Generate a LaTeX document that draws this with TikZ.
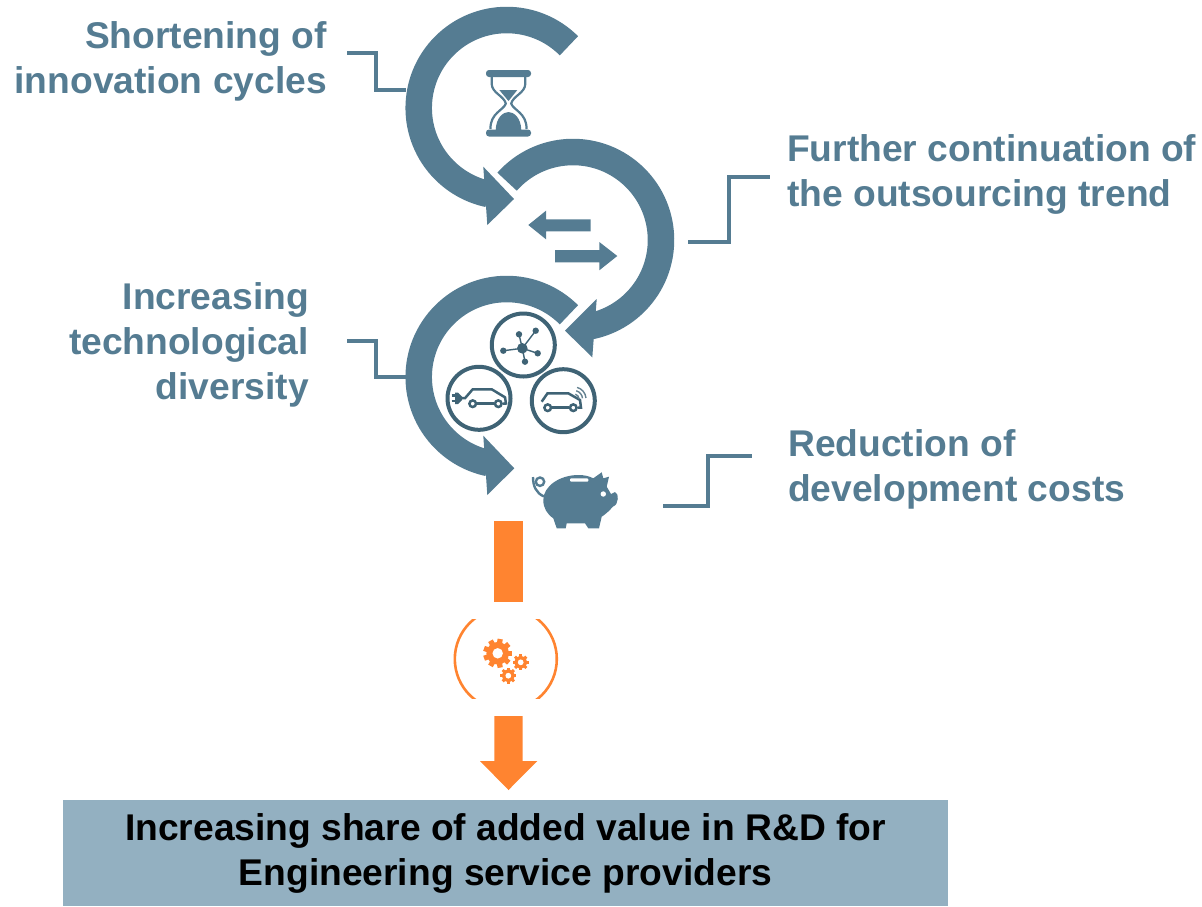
\documentclass[tikz,border=0pt]{standalone}
\usepackage{fontspec}
\setmainfont{Liberation Sans}
\definecolor{ringblue}{HTML}{557C92}
\definecolor{darkblue}{HTML}{3F6375}
\definecolor{boxblue}{HTML}{93B0C1}
\definecolor{flow}{HTML}{FF8430}
\tikzstyle{ring} = [draw=ringblue, line width=26.5pt]
\tikzstyle{solid blue} = [fill=ringblue, draw=none]
\tikzstyle{dark} = [draw=darkblue, line width=2.5pt]
\tikzstyle{badge} = [draw=darkblue, line width=4pt]
\tikzstyle{leader} = [draw=ringblue, line width=3.6pt]
\tikzstyle{lab} = [text=ringblue, font=\fontsize{37.2}{45}\selectfont\bfseries, inner sep=0pt]
\newcommand{\gearicon}[4]{
  \fill[flow] (#1,#2) circle ({0.78*#3});
  \foreach \a in {0,#4,...,359}
    \draw[flow, line width={0.36*#3}, shift={(#1,#2)}] (\a:{0.6*#3}) -- (\a:#3);
  \fill[white] (#1,#2) circle ({0.36*#3});
}
\begin{document}
\begin{tikzpicture}[x=1pt, y=-1pt]
  \useasboundingbox (0,0) rectangle (1202,906);
  \coordinate (c1) at (506.7,108);
  \coordinate (c2) at (573,240);
  \coordinate (c3) at (506.7,377);

  \draw[ring] (c1) ++(-45:88) arc (-45:-258:88);
  \fill[solid blue] (483.3,166.7) -- (514,199) -- (487.3,225) -- cycle;
  \draw[ring] (c2) ++(-138.5:88) arc (-138.5:79:88);
  \fill[solid blue] (596.7,299) -- (565,330.7) -- (592.3,357.3) -- cycle;
  \draw[ring] (c3) ++(-45:88) arc (-45:-258:88);
  \fill[solid blue] (483.3,435.7) -- (514.3,468.3) -- (487.3,495) -- cycle;

  \node[lab, anchor=east, align=right] (lab1) at (327,61) {Shortening of\\innovation cycles};
  \node[lab, anchor=west, align=left] (lab2) at (787,174) {Further continuation of\\the outsourcing trend};
  \node[lab, anchor=east, align=right] (lab3) at (309,345) {Increasing\\technological\\diversity};
  \node[lab, anchor=west, align=left] (lab4) at (788,469) {Reduction of\\development costs};

  \coordinate (s1) at (347,53);
  \coordinate (e1) at (406,90);
  \coordinate (s2) at (688,242);
  \coordinate (e2) at (770,177);
  \coordinate (s3) at (347,341);
  \coordinate (e3) at (406,377);
  \coordinate (s4) at (663,506);
  \coordinate (e4) at (752,456);
  \draw[leader] (s1) -- ++(29,0) |- (e1);
  \draw[leader] (s2) -- ++(41,0) |- (e2);
  \draw[leader] (s3) -- ++(29,0) |- (e3);
  \draw[leader] (s4) -- ++(45,0) |- (e4);

  % hourglass
  \fill[solid blue, rounded corners=3pt] (486,70) rectangle (531,77);
  \fill[solid blue, rounded corners=3pt] (486,129.5) rectangle (531,136.5);
  \draw[ringblue, line width=2.2pt] (491.7,77) -- (491.7,84) .. controls (492,93) and (504,96) .. (505.8,103.5) .. controls (504,110) and (490,113) .. (490.5,129);
  \draw[ringblue, line width=2.2pt] (525.3,77) -- (525.3,84) .. controls (525,93) and (513,96) .. (511.2,103.5) .. controls (513,110) and (527,113) .. (526.5,129);
  \fill[solid blue] (499.3,90) -- (517.3,90) -- (508.5,101) -- cycle;
  \fill[solid blue] (495.7,130) .. controls (496,118) and (503,112) .. (508.5,112) .. controls (514,112) and (521,118) .. (521.3,130) -- cycle;

  % small arrows
  \fill[solid blue] (528.3,225) -- (546,210.7) -- (546,219.3) -- (590.7,219.3) -- (590.7,231.3) -- (546,231.3) -- (546,239.3) -- cycle;
  \fill[solid blue] (617.3,256) -- (599.3,242) -- (599.3,250) -- (555,250) -- (555,262.3) -- (599.3,262.3) -- (599.3,270.3) -- cycle;

  % badges
  \draw[badge] (523.3,345) circle (31.5);
  \draw[badge] (479,398.3) circle (31.5);
  \draw[badge] (563.3,400.7) circle (31.5);

  \foreach \px/\py in {519/334.3, 535.7/330.7, 537.7/353.3, 525/361.7, 503.3/350.7} {
    \draw[darkblue, line width=1.4pt] (522.3,348.3) -- (\px,\py);
    \fill[darkblue] (\px,\py) circle (3.2);
  }
  \fill[darkblue] (522.3,348.3) circle (5.3);

  \draw[dark] (451.5,395.5) -- (456,395.5) (451.5,401) -- (456,401);
  \fill[darkblue] (455,392.5) -- (458,392.5) -- (462,396.5) -- (462,400) -- (458,404) -- (455,404) -- cycle;
  \draw[dark] (462,398.2) -- (465,398.2) -- (472.7,389.3) -- (491.7,389.3) -- (505,397.3) -- (506,403.5) -- (503,403.7);
  \draw[dark] (477,403.7) -- (494,403.7);
  \draw[dark] (472.7,403.7) circle (3.3);
  \draw[dark] (498.3,403.7) circle (3.3);

  \draw[dark] (541.7,401.7) -- (547.5,393.3) -- (568.3,393.3) -- (580,400) -- (581,407.7) -- (578,407.7);
  \draw[dark] (552,407.7) -- (569,407.7);
  \draw[dark] (547.7,407.7) circle (3.3);
  \draw[dark] (573.3,407.7) circle (3.3);
  \foreach \r in {5,8.5,12}
    \draw[darkblue!80!white, line width=1.4pt] (574,399) ++(-75:\r) arc (-75:-5:\r);

  % piggy bank
  \fill[solid blue] (543.3,500) .. controls (543.3,486) and (560,475) .. (578.3,475) .. controls (584,475) and (589,476) .. (593.3,478.3) -- (601.7,472.3) -- (603.3,478.3) -- (609,476.7) -- (606.7,486.7) .. controls (608,489) and (610,492) .. (611,494) -- (615,492) .. controls (619,493) and (619,505) .. (613,506.5) .. controls (610,510) and (606,514) .. (601.7,516.7) -- (599,528.3) -- (588.3,528.3) -- (585,523.3) -- (566.7,523.3) -- (565.7,528.3) -- (556.7,528.3) -- (553.3,518.3) .. controls (547,514) and (543.3,508) .. (543.3,500) -- cycle;
  \fill[white, rounded corners=1pt] (570,478.3) rectangle (588.3,481.7);
  \fill[white] (603.3,494) circle (2.7);
  \draw[ringblue, line width=2.4pt] (540,481.7) circle (4.2);
  \draw[ringblue, line width=2.4pt] (533,477) .. controls (533,486) and (536,493) .. (544,496.5);

  % flow down
  \fill[flow] (494.3,521) rectangle (522.7,601.7);
  \begin{scope}
    \clip (440,619) rectangle (575,698.7);
    \draw[flow, line width=2.6pt] (505.8,659) circle (51);
  \end{scope}
  \gearicon{497.7}{653.3}{14.5}{40}
  \gearicon{520.7}{662.3}{8}{45}
  \gearicon{508.3}{675.7}{8}{45}
  \fill[flow] (494.3,716) -- (522.7,716) -- (522.7,761) -- (537.3,761) -- (508.5,790) -- (480,761) -- (494.3,761) -- cycle;

  \node[fill=boxblue, minimum width=885pt, minimum height=106pt, inner sep=0pt, align=center, font=\fontsize{37.2}{45}\selectfont\bfseries] (result) at (505.5,853) {\raisebox{-6pt}{Increasing share of added value in R\&D for}\\\raisebox{-6pt}{Engineering service providers}};
\end{tikzpicture}
\end{document}
